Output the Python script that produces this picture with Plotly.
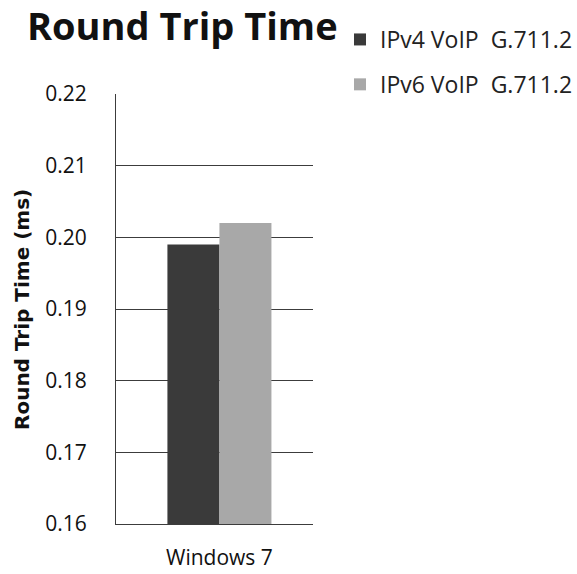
import plotly.graph_objects as go

categories = ["Windows 7"]
series_names = ["IPv4 VoIP  G.711.2", "IPv6 VoIP  G.711.2"]
ipv4_values = [0.199]
ipv6_values = [0.202]
y_ticks = [0.16, 0.17, 0.18, 0.19, 0.20, 0.21, 0.22]
y_tick_labels = ["0.16", "0.17", "0.18", "0.19", "0.20", "0.21", "0.22"]
colors = ["#3a3a3a", "#a8a8a8"]

FONT = "Open Sans"
W, H = 577, 574
ML, MR, MT, MB = 116, 264, 94, 50

fig = go.Figure()
for name, vals, col, grp in zip(series_names, [ipv4_values, ipv6_values], colors, ["a", "b"]):
    fig.add_trace(go.Bar(x=categories, y=vals, name=name, marker=dict(color=col, line=dict(width=0)),
                         legendgroup=grp))

pw = W - ML - MR
ph = H - MT - MB

fig.update_layout(
    width=W, height=H,
    margin=dict(l=ML, r=MR, t=MT, b=MB, autoexpand=False),
    paper_bgcolor="white", plot_bgcolor="white",
    barmode="group", bargap=0.472, bargroupgap=0,
    font=dict(family=FONT, color="#111111"),
    title=dict(text="<b>Round Trip Time</b>", x=27/W, xanchor="left", xref="container",
               y=1-27/H, yanchor="middle", yref="container",
               font=dict(size=38, family=FONT, color="#111111")),
    legend=dict(x=340/W, xref="container", y=1-18/H, yref="container", xanchor="left", yanchor="top",
                font=dict(size=23, family=FONT, color="#222222"), traceorder="grouped",
                tracegroupgap=12, itemwidth=30, bgcolor="rgba(0,0,0,0)"),
    showlegend=True,
    yaxis=dict(range=[0.16, 0.22], tickvals=y_ticks, ticktext=y_tick_labels,
               showgrid=True, gridcolor="#3c3c3c", gridwidth=1,
               showline=True, linecolor="#3c3c3c", linewidth=1,
               ticks="", ticklabelstandoff=24, tickfont=dict(size=21, family=FONT, color="#111111"),
               zeroline=False),
    xaxis=dict(range=[-0.525, 0.475], showline=True, linecolor="#3c3c3c", linewidth=1, ticks="",
               ticklabelstandoff=15, tickfont=dict(size=21, family=FONT, color="#111111")),
    annotations=[dict(text="<b>Round Trip Time (ms)</b>", textangle=-90,
                      x=(22 - ML) / pw, y=(H - MB - 310) / ph,
                      xref="paper", yref="paper", xanchor="center", yanchor="middle", showarrow=False,
                      font=dict(size=20, family="DejaVu Sans", color="#111111"))],
)

fig.write_html("out.html")
